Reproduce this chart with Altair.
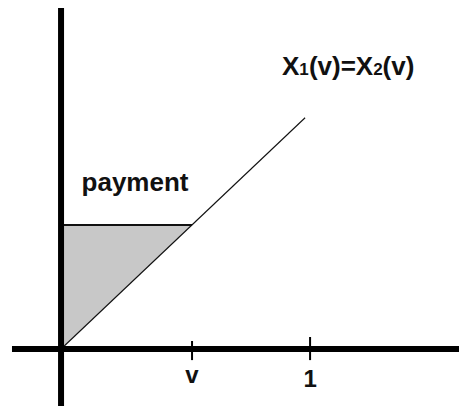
import altair as alt
import pandas as pd

# ---- values (data units: v-axis origin at 0, tick "1" at 1) ----
v = 0.526                      # position of the "v" tick and the payment level
diag_x = [0.0, 0.98]           # X1(v)=X2(v) line
diag_y = [0.0, 0.98]
tick_pos = [v, 1.0]
tick_top = [0.034, 0.051]
tick_bottom = [-0.047, -0.047]
tick_labels = ["v", "1"]
tick_label_y = [-0.146, -0.160]
shade_x = [0.0, v]
shade_lo = [0.0, v]
shade_hi = [v, v]
formula_parts = ["X", "1", "(v)=X", "2", "(v)"]
formula_x = [0.8876, 0.957, 0.9952, 1.2534, 1.2912]
formula_size = [26, 17, 26, 17, 26]
formula_y = 1.161
payment_label = "payment"
payment_x = 0.0823
payment_y = 0.6716

XD = [-0.213, 1.598]
YD = [-0.2415, 1.445]
xs = alt.Scale(domain=XD, nice=False, zero=False)
ys = alt.Scale(domain=YD, nice=False, zero=False)
FONT = "Liberation Sans"


def X(f):
    return alt.X(f, type="quantitative", scale=xs, axis=None)


def Y(f):
    return alt.Y(f, type="quantitative", scale=ys, axis=None)


shade = alt.Chart(pd.DataFrame({"x": shade_x, "lo": shade_lo, "hi": shade_hi})).mark_area(
    color="#c8c8c8", opacity=1
).encode(x=X("x"), y=Y("lo"), y2="hi:Q")

diag = alt.Chart(pd.DataFrame({"x": diag_x, "y": diag_y})).mark_line(
    color="#111111", strokeWidth=1.1
).encode(x=X("x"), y=Y("y"))

pay_line = alt.Chart(pd.DataFrame({"x": [0.0], "x2": [v], "y": [v]})).mark_rule(
    color="#111111", strokeWidth=2
).encode(x=X("x"), x2="x2:Q", y=Y("y"))

h_axis = alt.Chart(pd.DataFrame({"x": [-0.197], "x2": [XD[1]], "y": [0.0]})).mark_rule(
    color="black", strokeWidth=6, strokeCap="butt"
).encode(x=X("x"), x2="x2:Q", y=Y("y"))

v_axis = alt.Chart(pd.DataFrame({"x": [0.0], "y": [YD[1]], "y2": [YD[0]]})).mark_rule(
    color="black", strokeWidth=6, strokeCap="butt"
).encode(x=X("x"), y=Y("y"), y2="y2:Q")

ticks = alt.Chart(pd.DataFrame({"x": tick_pos, "y": tick_top, "y2": tick_bottom})).mark_rule(
    color="black", strokeWidth=2
).encode(x=X("x"), y=Y("y"), y2="y2:Q")

tick_text = alt.Chart(pd.DataFrame({"x": tick_pos, "y": tick_label_y, "t": tick_labels})).mark_text(
    font=FONT, fontWeight="bold", fontSize=24, align="center", baseline="alphabetic", color="#111111"
).encode(x=X("x"), y=Y("y"), text="t:N")

formula = alt.Chart(pd.DataFrame({
    "x": formula_x, "y": [formula_y] * len(formula_x), "t": formula_parts, "s": formula_size
})).mark_text(
    font=FONT, fontWeight="bold", align="left", baseline="alphabetic", color="#111111"
).encode(x=X("x"), y=Y("y"), text="t:N", size=alt.Size("s:Q", scale=None, legend=None))

pay_text = alt.Chart(pd.DataFrame({"x": [payment_x], "y": [payment_y], "t": [payment_label]})).mark_text(
    font=FONT, fontWeight="bold", fontSize=26, align="left", baseline="alphabetic", color="#111111"
).encode(x=X("x"), y=Y("y"), text="t:N")

chart = alt.layer(
    shade, diag, pay_line, h_axis, v_axis, ticks, tick_text, formula, pay_text
).properties(
    width=451, height=398, padding=0, autosize="none", background="white"
).configure_view(stroke=None)

chart.save("out.html", embed_options={"renderer": "svg", "actions": False})
